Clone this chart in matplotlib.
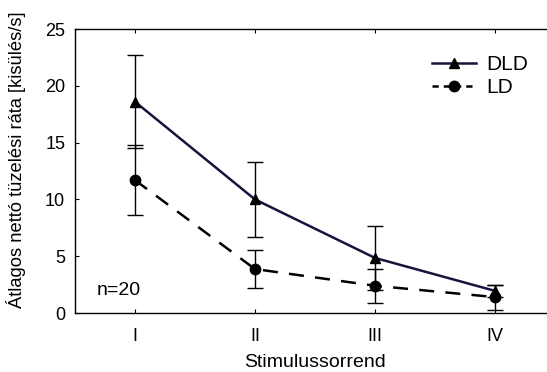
import matplotlib
matplotlib.use("Agg")
import matplotlib.pyplot as plt
from matplotlib.lines import Line2D

plt.rcParams["font.family"] = ["Liberation Sans", "DejaVu Sans"]

stimuli = ["I", "II", "III", "IV"]
dld_mean = [18.6, 10.0, 4.85, 1.95]
dld_err = [4.1, 3.3, 2.8, 0.5]
ld_mean = [11.7, 3.87, 2.4, 1.4]
ld_err = [3.1, 1.65, 1.5, 1.1]

x = list(range(1, len(stimuli) + 1))

fig = plt.figure(figsize=(5.47, 3.72), dpi=100)
ax = fig.add_axes([0.137, 0.1586, 0.8775, 0.7634])

ax.errorbar(x, dld_mean, yerr=dld_err, color="#14143c", lw=1.8,
            marker="^", ms=7, mfc="black", mec="black",
            ecolor="black", elinewidth=1, capsize=6, capthick=1)
ax.errorbar(x, ld_mean, yerr=ld_err, color="black", lw=1.8, ls=(0, (6, 4.5)),
            marker="o", ms=7.5, mfc="black", mec="black",
            ecolor="black", elinewidth=1, capsize=6, capthick=1)

ax.set_xlim(0.5, 4.5)
ax.set_ylim(0, 25)
ax.set_xticks(x)
ax.set_xticklabels(stimuli)
ax.set_yticks([0, 5, 10, 15, 20, 25])
ax.tick_params(direction="in", length=3, labelsize=13, top=True)
ax.tick_params(axis="x", pad=11)
ax.tick_params(axis="y", pad=7)
for s in ax.spines.values():
    s.set_linewidth(1.0)

ax.set_xlabel("Stimulussorrend", fontsize=14, labelpad=6.5)
ax.set_ylabel("Átlagos nettó tüzelési ráta [kisülés/s]", fontsize=13.2)
ax.yaxis.set_label_coords(-0.102, 0.54)

ax.text(0.683, 1.6, "n=20", fontsize=14)

# legend handles with the shorter dash look of the original
handles = [
    Line2D([], [], color="#14143c", lw=1.8, marker="^", ms=7,
           mfc="black", mec="black"),
    Line2D([], [], color="black", lw=1.8, ls=(0, (2.5, 2)), marker="o",
           ms=7.5, mfc="black", mec="black"),
]
ax.legend(handles, ["DLD", "LD"], loc="upper left",
          bbox_to_anchor=(0.744, 0.909), frameon=False, borderpad=0,
          borderaxespad=0, fontsize=15, handlelength=2.1,
          handletextpad=0.5, labelspacing=0.2)

fig.savefig("out.png", dpi=100)
